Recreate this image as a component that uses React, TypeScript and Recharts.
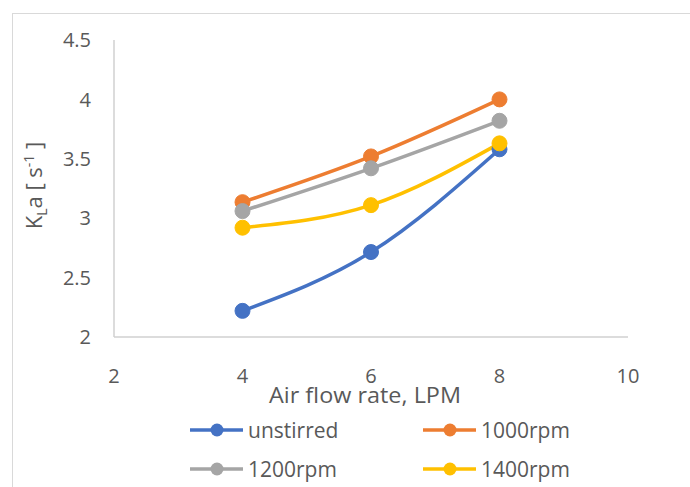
import React from "react";
import { LineChart, Line, XAxis, YAxis, Legend, Label } from "recharts";

const airFlow = [4, 6, 8];
const unstirred = [2.22, 2.715, 3.58];
const rpm1000 = [3.135, 3.52, 4.0];
const rpm1200 = [3.06, 3.42, 3.82];
const rpm1400 = [2.92, 3.11, 3.63];

const xTicks = [2, 4, 6, 8, 10];
const yTicks = [2, 2.5, 3, 3.5, 4, 4.5];

const series = [
  { key: "unstirred", name: "unstirred", color: "#4472C4" },
  { key: "rpm1000", name: "1000rpm", color: "#ED7D31" },
  { key: "rpm1200", name: "1200rpm", color: "#A5A5A5" },
  { key: "rpm1400", name: "1400rpm", color: "#FFC000" },
];

const data = airFlow.map((x, i) => ({
  x,
  unstirred: unstirred[i],
  rpm1000: rpm1000[i],
  rpm1200: rpm1200[i],
  rpm1400: rpm1400[i],
}));

const FONT = "'Open Sans', sans-serif";
const TEXT = "#595959";
const AXIS = "#d0d0d0";

const XTitle = (props: any) => {
  const vb = props.viewBox || {};
  return (
    <text
      x={365}
      y={vb.y + 66}
      textAnchor="middle"
      fill={TEXT}
      fontSize={21}
      fontFamily={FONT}
      textLength={192}
      lengthAdjust="spacingAndGlyphs"
    >
      Air flow rate, LPM
    </text>
  );
};

const YTitle = (props: any) => {
  const vb = props.viewBox || {};
  const cy = vb.y + vb.height / 2 - 3;
  const cx = 42;
  return (
    <text
      transform={`translate(${cx}, ${cy}) rotate(-90)`}
      textAnchor="middle"
      fill={TEXT}
      fontSize={22}
      fontFamily={FONT}
    >
      K
      <tspan fontSize={14} dy={5}>L</tspan>
      <tspan dy={-5}>a [ s</tspan>
      <tspan fontSize={14} dy={-8}>-1</tspan>
      <tspan dy={8}> ]</tspan>
    </text>
  );
};

const LegendBox = () => {
  const cols = [190, 423];
  return (
    <div style={{ position: "relative", width: 690, height: 72 }}>
      {series.map((s, i) => (
        <div
          key={s.key}
          style={{
            position: "absolute",
            left: cols[i % 2],
            top: i < 2 ? -1 : 38,
            height: 32,
            display: "flex",
            alignItems: "center",
            fontFamily: FONT,
            fontSize: 21,
            color: TEXT,
          }}
        >
          <svg width={55} height={20}>
            <line x1={0} x2={53} y1={10} y2={10} stroke={s.color} strokeWidth={3.5} />
            <circle cx={27} cy={10} r={6.5} fill={s.color} />
          </svg>
          <span style={{ marginLeft: 3 }}>{s.name}</span>
        </div>
      ))}
    </div>
  );
};

export default function App() {
  return (
    <div style={{ position: "absolute", left: 0, top: 0, width: 690, height: 487, background: "#fff", overflow: "hidden" }}>
      <div
        style={{
          position: "absolute",
          left: 12,
          top: 13,
          width: 700,
          height: 500,
          border: "1.5px solid #d9d9d9",
        }}
      />
      <LineChart
        width={690}
        height={487}
        data={data}
        margin={{ top: 40, right: 62, bottom: 0, left: 0 }}
      >
        <XAxis
          type="number"
          dataKey="x"
          domain={[2, 10]}
          ticks={xTicks}
          stroke={AXIS}
          strokeWidth={1.5}
          tickLine={false}
          tickSize={0}
          tickMargin={32}
          height={78}
          tick={{ fill: TEXT, fontSize: 20, fontFamily: FONT }}
        >
          <Label content={XTitle} />
        </XAxis>
        <YAxis
          type="number"
          domain={[2, 4.5]}
          ticks={yTicks}
          width={114}
          stroke={AXIS}
          strokeWidth={1.5}
          tickLine={false}
          tickSize={0}
          tickMargin={23}
          tick={{ fill: TEXT, fontSize: 20, fontFamily: FONT }}
        >
          <Label content={YTitle} />
        </YAxis>
        <Legend verticalAlign="bottom" content={LegendBox} wrapperStyle={{ left: 0, width: 690 }} />
        {series.map((s) => (
          <Line
            key={s.key}
            type="monotone"
            dataKey={s.key}
            name={s.name}
            stroke={s.color}
            strokeWidth={3.5}
            dot={{ r: 7.5, fill: s.color, stroke: s.color, strokeWidth: 1 }}
            activeDot={false}
            isAnimationActive={false}
          />
        ))}
      </LineChart>
    </div>
  );
}
